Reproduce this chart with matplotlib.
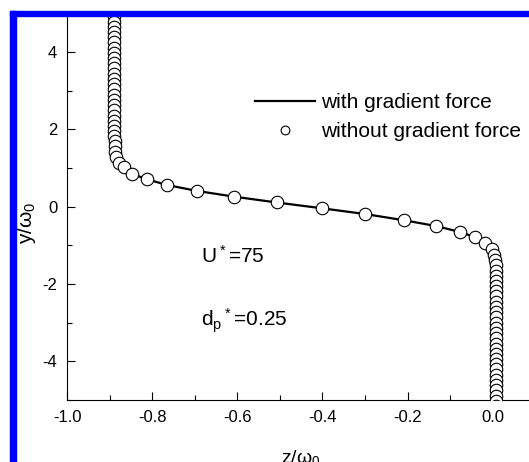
import matplotlib
matplotlib.use("Agg")
import matplotlib.pyplot as plt
from matplotlib.patches import Rectangle

plt.rcParams['font.family'] = ['Liberation Sans', 'DejaVu Sans']
plt.rcParams['mathtext.default'] = 'regular'
plt.rcParams['axes.unicode_minus'] = False

# ---- data ----
# "without gradient force" markers
left_col_y = [5.20, 5.06, 4.93, 4.79, 4.66, 4.52, 4.39, 4.25, 4.12, 3.98, 3.85, 3.71,
              3.58, 3.44, 3.31, 3.17, 3.04, 2.90, 2.77, 2.63, 2.50, 2.36, 2.23, 2.09,
              1.96, 1.82, 1.69, 1.56]
left_col_z = [-0.889] * 26 + [-0.888, -0.888]
bend_z = [-0.887, -0.884, -0.879, -0.867, -0.847, -0.812, -0.764, -0.695, -0.607,
          -0.507, -0.401, -0.299, -0.208, -0.133, -0.078, -0.041, -0.018, -0.002]
bend_y = [1.42, 1.28, 1.14, 1.02, 0.85, 0.71, 0.56, 0.41, 0.26,
          0.11, -0.04, -0.19, -0.35, -0.50, -0.65, -0.79, -0.93, -1.10]
right_col_y = [-1.24, -1.38, -1.51, -1.65, -1.78, -1.92, -2.05, -2.19, -2.32, -2.46,
               -2.59, -2.73, -2.86, -3.00, -3.13, -3.27, -3.40, -3.54, -3.67, -3.81,
               -3.94, -4.08, -4.21, -4.35, -4.48, -4.62, -4.75, -4.89, -5.02, -5.16]
right_col_z = [0.002, 0.005, 0.007] + [0.008] * 27

# "with gradient force" line
line_z = [-0.889, -0.889, -0.887, -0.884, -0.879, -0.867, -0.847, -0.812, -0.764,
          -0.695, -0.607, -0.507, -0.401, -0.299, -0.208, -0.133, -0.078, -0.041,
          -0.018, -0.002, 0.005, 0.008, 0.008]
line_y = [5.3, 1.60, 1.42, 1.28, 1.14, 1.02, 0.85, 0.71, 0.56,
          0.41, 0.26, 0.11, -0.04, -0.19, -0.35, -0.50, -0.65, -0.79,
          -0.93, -1.10, -1.38, -1.80, -5.3]

xticks = [-1.0, -0.8, -0.6, -0.4, -0.2, 0.0]
yticks = [-4, -2, 0, 2, 4]

marker_z = left_col_z + bend_z + right_col_z
marker_y = left_col_y + bend_y + right_col_y

W, H = 529, 462
fig = plt.figure(figsize=(W / 100, H / 100), dpi=100)
ax = fig.add_axes([67 / W, (H - 400) / H, 1.1 * 425.8 / W, (400 - 13.5) / H])

ax.plot(line_z, line_y, color='black', lw=1.6, label='with gradient force', zorder=2)
ax.plot(marker_z, marker_y, ls='none', marker='o', ms=9, mfc='white', mec='black',
        mew=0.8, label='without gradient force', zorder=3)

ax.set_xlim(-1.0, 0.1)
ax.set_ylim(-5, 5)
ax.set_xticks(xticks)
ax.set_xticklabels([f"{v:.1f}" for v in xticks])
ax.set_yticks(yticks)
ax.set_xticks([-0.9, -0.7, -0.5, -0.3, -0.1], minor=True)
ax.set_yticks([-5, -3, -1, 1, 3, 5], minor=True)
ax.tick_params(which='major', direction='in', length=6, width=0.8, labelsize=12, pad=7)
ax.tick_params(which='minor', direction='in', length=3.5, width=0.8)
ax.tick_params(top=False, right=False)
for s in ['top', 'right']:
    ax.spines[s].set_visible(False)
for s in ['left', 'bottom']:
    ax.spines[s].set_linewidth(0.8)

ax.set_xlabel('z/ω$_0$', fontsize=14)
ax.xaxis.set_label_coords(0.5, -0.125)
ax.set_ylabel('y/ω$_0$', fontsize=15)
ax.yaxis.set_label_coords(-0.062, 0.458)

ax.text(-0.685, -1.46, 'U$^*$=75', fontsize=15)
ax.text(-0.685, -3.09, 'd$_p$$^*$=0.25', fontsize=15)

ax.legend(loc='upper left', bbox_to_anchor=(255 / W, 1 - 93 / H), bbox_transform=fig.transFigure,
          frameon=False, fontsize=15, handlelength=2.9, handletextpad=0.25,
          labelspacing=0.5, markerscale=0.7, borderaxespad=0, borderpad=0)

fig.patches.append(Rectangle((10 / W, 0), 6 / W, 1 - 11 / H, transform=fig.transFigure,
                             color='#0000ff', zorder=10))
fig.patches.append(Rectangle((10 / W, 1 - 16 / H), 1 - 10 / W, 5 / H, transform=fig.transFigure,
                             color='#0000ff', zorder=10))

fig.savefig('out.png', dpi=100)
